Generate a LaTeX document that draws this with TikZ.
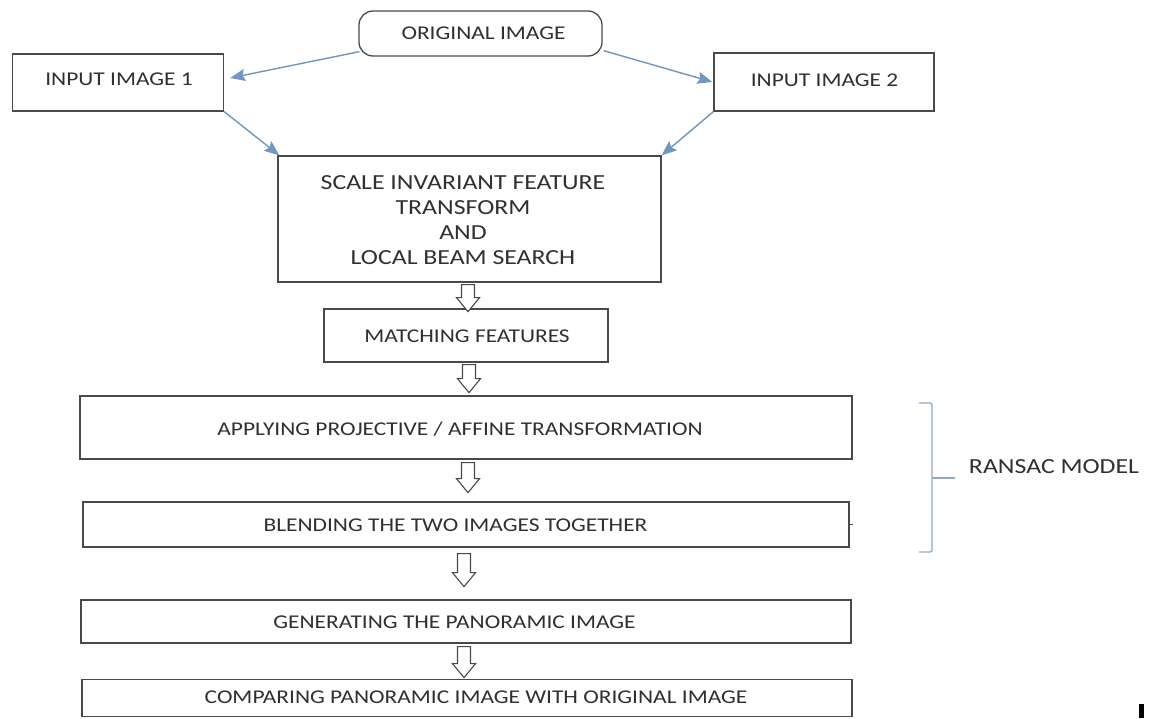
\documentclass[tikz,border=0pt]{standalone}
\usepackage{fontspec}
\setmainfont{Carlito}[FakeStretch=1.2]
\usetikzlibrary{arrows.meta,calc}
\definecolor{boxline}{HTML}{4A4A4A}
\definecolor{txt}{HTML}{303030}
\definecolor{flowblue}{HTML}{6F97BF}
\definecolor{bracecol}{HTML}{8FA9C6}
\tikzset{
  box/.style={draw=boxline, line width=1.3pt, inner sep=0pt},
  lbl/.style={text=txt, inner sep=0pt, font=\fontsize{19.5}{24}\selectfont, align=center},
  bigl/.style={lbl, font=\fontsize{21.5}{25}\selectfont},
  bluearrow/.style={draw=flowblue, line width=1.4pt, -{Stealth[length=15pt,width=12pt,inset=2.5pt]}},
  hollow/.style={draw=boxline, line width=1.1pt, fill=white, line join=miter},
  bracestyle/.style={draw=bracecol, line width=1.3pt},
}
\newcommand\harrow[2]{\draw[hollow] ($(#1)+(-6.5,0)$) -- ($(#1)+(6.5,0)$) -- ($(#2)+(6.5,-14)$) -- ($(#2)+(11.5,-14)$) -- (#2) -- ($(#2)+(-11.5,-14)$) -- ($(#2)+(-6.5,-14)$) -- cycle;}
\begin{document}
\begin{tikzpicture}[x=1pt,y=-1pt]
\useasboundingbox (0,0) rectangle (1155,718);
\fill[white] (0,0) rectangle (1155,718);

% boxes
\node[box, rounded corners=14pt, minimum width=243pt, minimum height=45pt] (orig) at (480.5,33.5) {};
\node[box, minimum width=211pt, minimum height=57pt] (in1) at (118,82.5) {};
\node[box, minimum width=220pt, minimum height=58pt] (in2) at (824,82) {};
\node[box, minimum width=383pt, minimum height=126pt] (sift) at (469.5,219) {};
\node[box, minimum width=284pt, minimum height=53pt] (match) at (466,335.5) {};
\node[box, minimum width=772pt, minimum height=63pt] (apply) at (466,427.5) {};
\node[box, minimum width=766pt, minimum height=45pt] (blend) at (466,524.5) {};
\node[box, minimum width=770pt, minimum height=43pt] (gen) at (466,621.5) {};
\node[box, minimum width=770pt, minimum height=37pt] (comp) at (467,698) {};

% texts
\node[lbl] (origt) at (483.5,33) {ORIGINAL IMAGE};
\node[lbl] (in1t) at (119,79) {INPUT IMAGE 1};
\node[lbl] (in2t) at (824.5,80.5) {INPUT IMAGE 2};
\node[bigl] (siftt) at (463,220.5) {SCALE INVARIANT FEATURE\\TRANSFORM\\AND\\LOCAL BEAM SEARCH};
\node[lbl] (matcht) at (467,336) {MATCHING FEATURES};
\node[lbl] (applyt) at (460,429) {APPLYING PROJECTIVE / AFFINE TRANSFORMATION};
\node[lbl] (blendt) at (455.5,525) {BLENDING THE TWO IMAGES TOGETHER};
\node[lbl] (gent) at (454.5,622) {GENERATING THE PANORAMIC IMAGE};
\node[lbl] (compt) at (476,697) {COMPARING PANORAMIC IMAGE WITH ORIGINAL IMAGE};
\node[bigl] (ransac) at (1054,467) {RANSAC MODEL};

% blue arrows
\draw[bluearrow] ($(orig.south west)+(1,-5)$) -- ($(in1.east)+(6,-4.5)$);
\draw[bluearrow] ($(orig.south east)+(1,-6)$) -- ($(in2.west)+(-1,0)$);
\draw[bluearrow] (in1.south east) -- ($(sift.north west)+(2,0)$);
\draw[bluearrow] (in2.south west) -- (sift.north east);

% hollow arrows
\coordinate (a1t) at ($(sift.south)+(-1.5,2)$);
\coordinate (a1b) at ($(a1t)+(0,27)$);
\harrow{a1t}{a1b}
\coordinate (a2t) at ($(match.south)+(3,2)$);
\coordinate (a2b) at ($(a2t)+(0,28)$);
\harrow{a2t}{a2b}
\coordinate (a3t) at ($(apply.south)+(2,3)$);
\coordinate (a3b) at ($(a3t)+(0,30)$);
\harrow{a3t}{a3b}
\coordinate (a4t) at ($(blend.south)+(-2,6)$);
\coordinate (a4b) at ($(a4t)+(0,33)$);
\harrow{a4t}{a4b}
\coordinate (a5t) at ($(gen.south)+(-2,3)$);
\coordinate (a5b) at ($(a5t)+(0,31)$);
\harrow{a5t}{a5b}

% small stub on blending box
\draw[draw=boxline, line width=1pt] (blend.east) -- ++(3,0);

% bracket
\draw[bracestyle, rounded corners=2pt] (919,403) -- (932,403) -- (932,552) -- (919,552);
\draw[bracestyle] (932,478) -- (955,478);

% corner mark
\fill[black] (1139,704) rectangle (1144,718);
\end{tikzpicture}
\end{document}
